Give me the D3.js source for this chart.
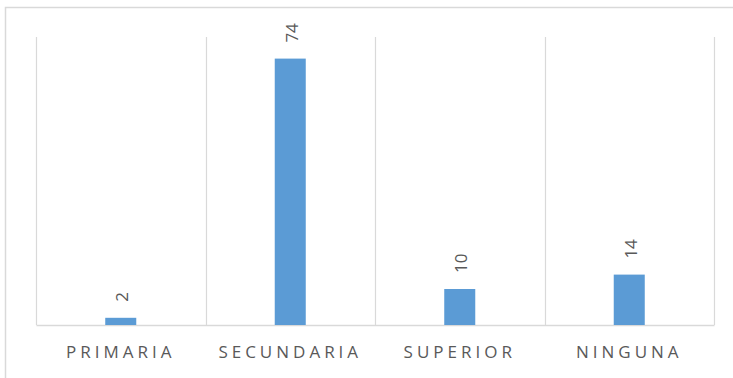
<!DOCTYPE html>
<html>
<head>
<meta charset="utf-8">
<script src="https://cdn.jsdelivr.net/npm/d3@7"></script>
<style>
  html, body { margin: 0; padding: 0; background: #fff; }
  svg { display: block; }
</style>
</head>
<body>
<div id="chart"></div>
<script>
// Nivel educativo: categorías y valores
const categories = ["PRIMARIA", "SECUNDARIA", "SUPERIOR", "NINGUNA"];
const values = [2, 74, 10, 14];
const yDomain = [0, 80];

const W = 733, H = 378;
const margin = { left: 36, right: 19, top: 37, bottom: 53 };
const plotW = W - margin.left - margin.right;
const plotH = H - margin.top - margin.bottom;

const svg = d3.select("#chart").append("svg")
  .attr("width", W).attr("height", H);

// marco exterior del gráfico
svg.append("rect")
  .attr("x", 5.5).attr("y", 7.5)
  .attr("width", W + 20).attr("height", H + 20)
  .attr("fill", "none").attr("stroke", "#d9d9d9").attr("stroke-width", 1.5);

const g = svg.append("g").attr("transform", `translate(${margin.left},${margin.top})`);

const x = d3.scaleBand().domain(categories).range([0, plotW]).paddingInner(0).paddingOuter(0);
const y = d3.scaleLinear().domain(yDomain).range([plotH, 0]);

// líneas divisorias verticales entre categorías
const bounds = categories.map(c => x(c)).concat([plotW]);
g.selectAll("line.grid").data(bounds).enter().append("line")
  .attr("class", "grid")
  .attr("x1", d => Math.round(d) + 0.5).attr("x2", d => Math.round(d) + 0.5)
  .attr("y1", 0).attr("y2", plotH)
  .attr("stroke", "#d9d9d9").attr("stroke-width", 1.2);

// eje horizontal
const xAxis = g.append("g").attr("transform", `translate(0,${plotH})`)
  .call(d3.axisBottom(x).tickSize(0).tickPadding(21));
xAxis.select(".domain").attr("stroke", "#d9d9d9").attr("stroke-width", 1.5);
xAxis.selectAll("text")
  .attr("fill", "#595959")
  .style("font-family", "'Open Sans', 'Liberation Sans', sans-serif")
  .style("font-size", "17px")
  .style("letter-spacing", "4px");

// barras
const barW = x.bandwidth() * 0.183;
g.selectAll("rect.bar").data(values).enter().append("rect")
  .attr("class", "bar")
  .attr("x", (d, i) => x(categories[i]) + x.bandwidth() / 2 - barW / 2)
  .attr("y", d => y(d))
  .attr("width", barW)
  .attr("height", d => plotH - y(d))
  .attr("fill", "#5b9bd5");

// etiquetas de valor rotadas
g.selectAll("text.val").data(values).enter().append("text")
  .attr("class", "val")
  .attr("transform", (d, i) => `translate(${x(categories[i]) + x.bandwidth() / 2 + 1},${y(d) - 16}) rotate(-90)`)
  .attr("text-anchor", "start")
  .attr("dominant-baseline", "central")
  .attr("fill", "#595959")
  .style("font-family", "'Open Sans', 'Liberation Sans', sans-serif")
  .style("font-size", "17px")
  .text(d => d);
</script>
</body>
</html>
